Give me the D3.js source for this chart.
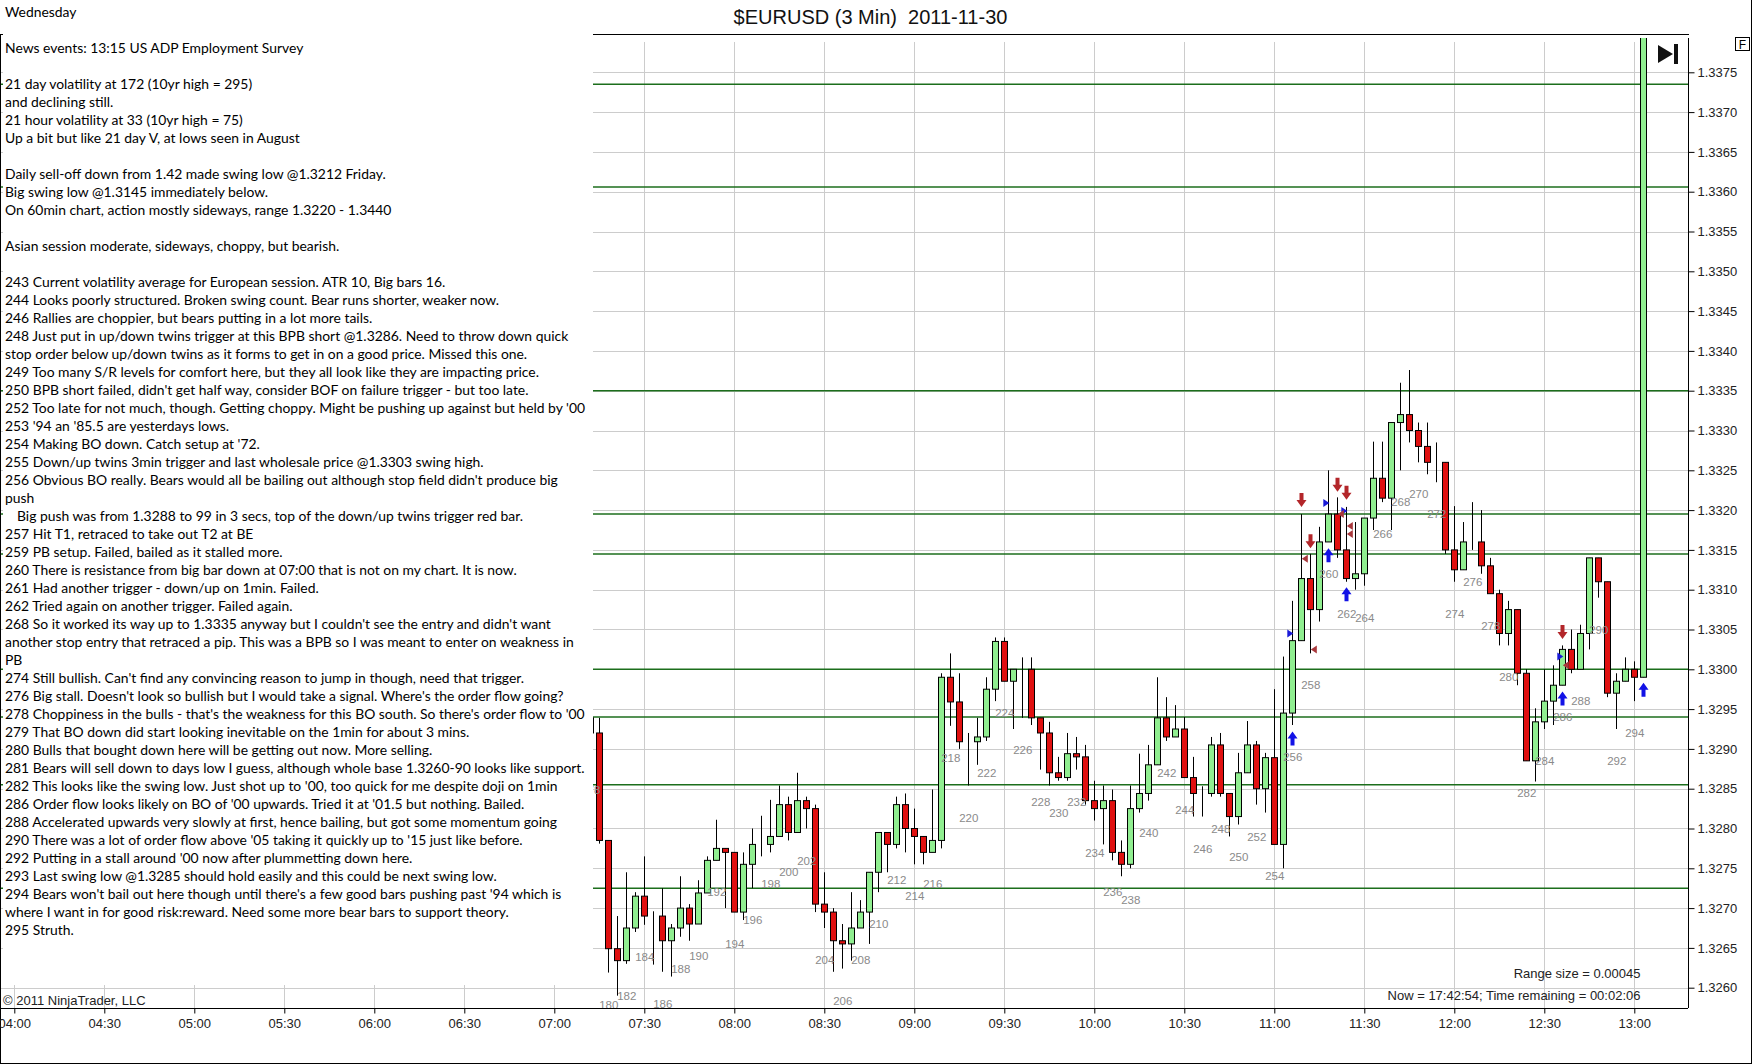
<!DOCTYPE html>
<html>
<head>
<meta charset="utf-8">
<script src="https://cdnjs.cloudflare.com/ajax/libs/d3/7.8.5/d3.min.js"></script>
<style>
  body { margin: 0; background: #fff; }
  svg { display: block; }
</style>
</head>
<body>
<svg id="chart" width="1752" height="1064"></svg>
<script>
// bar numbers start here, one entry per 3 minute bar
const firstBar = 178;
const opens = [1.32939,1.32920,1.32785,1.32649,1.32634,1.32675,1.32715,1.32690,1.32690,1.32659,
  1.32675,1.32700,1.32680,1.32719,1.32760,1.32775,1.32770,1.32695,1.32755,1.32780,
  1.32780,1.32790,1.32830,1.32795,1.32835,1.32825,1.32705,1.32695,1.32659,1.32655,
  1.32675,1.32695,1.32745,1.32795,1.32780,1.32830,1.32800,1.32790,1.32770,1.32785,
  1.32990,1.32959,1.32909,1.32909,1.32915,1.32975,1.33035,1.32985,1.33000,1.33000,
  1.32939,1.32920,1.32870,1.32864,1.32894,1.32890,1.32835,1.32825,1.32835,1.32770,
  1.32755,1.32825,1.32844,1.32880,1.32939,1.32915,1.32925,1.32864,1.32844,1.32844,
  1.32905,1.32844,1.32815,1.32870,1.32905,1.32850,1.32889,1.32780,1.32945,1.33036,
  1.33114,1.33075,1.33160,1.33195,1.33150,1.33114,1.33120,1.33190,1.33240,1.33215,
  1.33310,1.33320,1.33300,1.33280,1.33260,1.33260,1.33150,1.33125,1.33160,1.33160,
  1.33130,1.33095,1.33045,1.33075,1.32995,1.32885,1.32934,1.32960,1.32980,1.33025,
  1.33000,1.33045,1.33140,1.33110,1.32970,1.32985,1.33000,1.32990];
const highs = [1.32945,1.32939,1.32785,1.32690,1.32745,1.32720,1.32765,1.32696,1.32725,1.32680,
  1.32740,1.32705,1.32735,1.32765,1.32811,1.32775,1.32770,1.32770,1.32800,1.32816,
  1.32836,1.32854,1.32840,1.32870,1.32840,1.32830,1.32745,1.32700,1.32680,1.32720,
  1.32710,1.32745,1.32795,1.32795,1.32840,1.32844,1.32825,1.32790,1.32849,1.32995,
  1.33020,1.32995,1.32920,1.32939,1.32990,1.33040,1.33040,1.33000,1.33015,1.33015,
  1.32939,1.32934,1.32890,1.32920,1.32915,1.32905,1.32860,1.32854,1.32849,1.32785,
  1.32854,1.32894,1.32905,1.32990,1.32965,1.32955,1.32940,1.32890,1.32853,1.32915,
  1.32920,1.32844,1.32895,1.32935,1.32910,1.32895,1.32975,1.33016,1.33086,1.33195,
  1.33145,1.33179,1.33250,1.33216,1.33204,1.33185,1.33190,1.33286,1.33286,1.33310,
  1.33360,1.33376,1.33310,1.33310,1.33285,1.33260,1.33205,1.33185,1.33210,1.33200,
  1.33140,1.33100,1.33086,1.33075,1.33000,1.32951,1.33000,1.33005,1.33030,1.33050,
  1.33056,1.33140,1.33140,1.33110,1.32995,1.33015,1.33010,1.33810];
const lows = [1.32888,1.32781,1.32619,1.32590,1.32630,1.32670,1.32679,1.32629,1.32620,1.32614,
  1.32664,1.32659,1.32680,1.32719,1.32760,1.32700,1.32695,1.32685,1.32725,1.32765,
  1.32770,1.32790,1.32785,1.32795,1.32800,1.32695,1.32675,1.32620,1.32624,1.32634,
  1.32675,1.32655,1.32720,1.32745,1.32775,1.32770,1.32755,1.32755,1.32770,1.32775,
  1.32929,1.32900,1.32854,1.32880,1.32910,1.32960,1.32985,1.32925,1.32939,1.32930,
  1.32874,1.32854,1.32860,1.32860,1.32874,1.32830,1.32810,1.32780,1.32760,1.32740,
  1.32750,1.32820,1.32835,1.32880,1.32910,1.32915,1.32864,1.32815,1.32815,1.32840,
  1.32840,1.32790,1.32805,1.32870,1.32830,1.32820,1.32780,1.32750,1.32930,1.33036,
  1.33020,1.33060,1.33160,1.33140,1.33110,1.33100,1.33105,1.33175,1.33210,1.33175,
  1.33250,1.33285,1.33260,1.33245,1.33235,1.33145,1.33110,1.33125,1.33150,1.33120,
  1.33095,1.33030,1.33030,1.32980,1.32885,1.32859,1.32925,1.32930,1.32980,1.32995,
  1.33000,1.33025,1.33090,1.32965,1.32925,1.32985,1.32960,1.32990];
const closes = [1.32920,1.32785,1.32649,1.32634,1.32675,1.32715,1.32690,1.32690,1.32659,1.32675,
  1.32700,1.32680,1.32719,1.32760,1.32775,1.32770,1.32695,1.32755,1.32780,1.32780,
  1.32790,1.32830,1.32795,1.32835,1.32825,1.32705,1.32695,1.32659,1.32655,1.32675,
  1.32695,1.32745,1.32795,1.32780,1.32830,1.32800,1.32790,1.32770,1.32785,1.32990,
  1.32959,1.32909,1.32909,1.32915,1.32975,1.33035,1.32985,1.33000,1.33000,1.32939,
  1.32920,1.32870,1.32864,1.32894,1.32890,1.32835,1.32825,1.32835,1.32770,1.32755,
  1.32825,1.32844,1.32880,1.32939,1.32915,1.32925,1.32864,1.32844,1.32844,1.32905,
  1.32844,1.32815,1.32870,1.32905,1.32850,1.32889,1.32780,1.32945,1.33036,1.33114,
  1.33075,1.33160,1.33195,1.33150,1.33114,1.33120,1.33190,1.33240,1.33215,1.33310,
  1.33320,1.33300,1.33280,1.33260,1.33260,1.33150,1.33125,1.33160,1.33160,1.33130,
  1.33095,1.33045,1.33075,1.32995,1.32885,1.32934,1.32960,1.32980,1.33025,1.33000,
  1.33045,1.33140,1.33110,1.32970,1.32985,1.33000,1.32990,1.33810];

// horizontal S/R lines drawn on the chart
const levels = [1.33735, 1.33606, 1.3335, 1.33195, 1.33145, 1.3300, 1.3294, 1.32855, 1.32725];

// signal markers: [bar, price]
const downArrows = [[257, 1.33204], [258, 1.33152], [261, 1.33223], [262, 1.33213], [286, 1.33038]];
const upArrows = [[256, 1.32922], [260, 1.33152], [262, 1.33103], [286, 1.32972], [295, 1.32983]];
const entryMarks = [[256, 1.33045], [260, 1.33209], [262, 1.33199], [286, 1.33016]];
const exitMarks = [[257, 1.33139], [258, 1.33025], [261, 1.33195], [262, 1.3318], [262, 1.3317], [286, 1.33005]];

const priceTicks = [1.3260, 1.3265, 1.3270, 1.3275, 1.3280, 1.3285, 1.3290, 1.3295, 1.3300, 1.3305,
  1.3310, 1.3315, 1.3320, 1.3325, 1.3330, 1.3335, 1.3340, 1.3345, 1.3350, 1.3355, 1.3360, 1.3365,
  1.3370, 1.3375];
const timeTicks = ['04:00', '04:30', '05:00', '05:30', '06:00', '06:30', '07:00', '07:30', '08:00', '08:30',
  '09:00', '09:30', '10:00', '10:30', '11:00', '11:30', '12:00', '12:30', '13:00'];

const notes = [
  "News events: 13:15 US ADP Employment Survey",
  "",
  "21 day volatility at 172 (10yr high = 295)",
  "and declining still.",
  "21 hour volatility at 33 (10yr high = 75)",
  "Up a bit but like 21 day V, at lows seen in August",
  "",
  "Daily sell-off down from 1.42 made swing low @1.3212 Friday.",
  "Big swing low @1.3145 immediately below.",
  "On 60min chart, action mostly sideways, range 1.3220 - 1.3440",
  "",
  "Asian session moderate, sideways, choppy, but bearish.",
  "",
  "243 Current volatility average for European session. ATR 10, Big bars 16.",
  "244 Looks poorly structured. Broken swing count. Bear runs shorter, weaker now.",
  "246 Rallies are choppier, but bears putting in a lot more tails.",
  "248 Just put in up/down twins trigger at this BPB short @1.3286. Need to throw down quick",
  "stop order below up/down twins as it forms to get in on a good price. Missed this one.",
  "249 Too many S/R levels for comfort here, but they all look like they are impacting price.",
  "250 BPB short failed, didn't get half way, consider BOF on failure trigger - but too late.",
  "252 Too late for not much, though. Getting choppy. Might be pushing up against but held by '00",
  "253 '94 an '85.5 are yesterdays lows.",
  "254 Making BO down. Catch setup at '72.",
  "255 Down/up twins 3min trigger and last wholesale price @1.3303 swing high.",
  "256 Obvious BO really. Bears would all be bailing out although stop field didn't produce big",
  "push",
  "   Big push was from 1.3288 to 99 in 3 secs, top of the down/up twins trigger red bar.",
  "257 Hit T1, retraced to take out T2 at BE",
  "259 PB setup. Failed, bailed as it stalled more.",
  "260 There is resistance from big bar down at 07:00 that is not on my chart. It is now.",
  "261 Had another trigger - down/up on 1min. Failed.",
  "262 Tried again on another trigger. Failed again.",
  "268 So it worked its way up to 1.3335 anyway but I couldn't see the entry and didn't want",
  "another stop entry that retraced a pip. This was a BPB so I was meant to enter on weakness in",
  "PB",
  "274 Still bullish. Can't find any convincing reason to jump in though, need that trigger.",
  "276 Big stall. Doesn't look so bullish but I would take a signal. Where's the order flow going?",
  "278 Choppiness in the bulls - that's the weakness for this BO south. So there's order flow to '00",
  "279 That BO down did start looking inevitable on the 1min for about 3 mins.",
  "280 Bulls that bought down here will be getting out now. More selling.",
  "281 Bears will sell down to days low I guess, although whole base 1.3260-90 looks like support.",
  "282 This looks like the swing low. Just shot up to '00, too quick for me despite doji on 1min",
  "286 Order flow looks likely on BO of '00 upwards. Tried it at '01.5 but nothing. Bailed.",
  "288 Accelerated upwards very slowly at first, hence bailing, but got some momentum going",
  "290 There was a lot of order flow above '05 taking it quickly up to '15 just like before.",
  "292 Putting in a stall around '00 now after plummetting down here.",
  "293 Last swing low @1.3285 should hold easily and this could be next swing low.",
  "294 Bears won't bail out here though until there's a few good bars pushing past '94 which is",
  "where I want in for good risk:reward. Need some more bear bars to support theory.",
  "295 Struth."
];

const svg = d3.select('#chart');
const axisFont = '"Liberation Sans", Arial, sans-serif';

// scales: 3 minute bars, bar 294 closes at 13:00
const parseT = d3.timeParse('%H:%M');
const tStart = parseT('04:00'), tEnd = parseT('13:00');
const x = d3.scaleTime().domain([tStart, tEnd]).range([14.3, 1634.3]);
const y = d3.scaleLinear().domain([1.3260, 1.3375]).range([987.7, 72.3]);
const barTime = n => d3.timeMinute.offset(tEnd, (n - 294) * 3);
const bx = n => x(barTime(n));

const bars = opens.map((o, i) => ({ n: firstBar + i, o: o, h: highs[i], l: lows[i], c: closes[i] }));

// clip for the price panel
svg.append('defs').append('clipPath').attr('id', 'plot')
  .append('rect').attr('x', 0).attr('y', 38).attr('width', 1688).attr('height', 970);

// grid
const grid = svg.append('g');
grid.selectAll('.vg').data(timeTicks).enter().append('line')
  .attr('x1', d => Math.round(x(parseT(d))) + 0.5).attr('x2', d => Math.round(x(parseT(d))) + 0.5)
  .attr('y1', 42).attr('y2', 1008)
  .attr('stroke', '#cccccc').attr('stroke-width', 1);
grid.selectAll('.hg').data(priceTicks).enter().append('line')
  .attr('x1', 0).attr('x2', 1688)
  .attr('y1', d => Math.round(y(d)) + 0.5).attr('y2', d => Math.round(y(d)) + 0.5)
  .attr('stroke', '#cccccc').attr('stroke-width', 1);

// S/R levels
svg.append('g').selectAll('line').data(levels).enter().append('line')
  .attr('x1', 0).attr('x2', 1688)
  .attr('y1', d => y(d)).attr('y2', d => y(d))
  .attr('stroke', '#1c6e1c').attr('stroke-width', 1.5);

// candles
const plot = svg.append('g').attr('clip-path', 'url(#plot)');
const candle = plot.selectAll('.bar').data(bars).enter().append('g');
candle.append('line')
  .attr('x1', d => Math.round(bx(d.n)) + 0.5).attr('x2', d => Math.round(bx(d.n)) + 0.5)
  .attr('y1', d => y(d.h)).attr('y2', d => y(d.l))
  .attr('stroke', '#000').attr('stroke-width', 1);
candle.append('rect')
  .attr('x', d => Math.round(bx(d.n)) - 2.5)
  .attr('width', 6)
  .attr('y', d => Math.min(y(d.o), y(d.c)))
  .attr('height', d => Math.abs(y(d.o) - y(d.c)))
  .attr('fill', d => d.c > d.o ? '#90ee90' : '#e01010')
  .attr('stroke', '#000').attr('stroke-width', 1);

// bar numbers under even bars
plot.selectAll('.num').data(bars.filter(d => d.n % 2 === 0 && d.n < 295)).enter().append('text')
  .attr('x', d => bx(d.n) + 0.5)
  .attr('y', d => y(d.l) + 32)
  .attr('dy', '0.35em')
  .attr('text-anchor', 'middle')
  .attr('font-family', axisFont).attr('font-size', 11.5)
  .attr('fill', '#8a8a8a')
  .text(d => d.n);

// markers
const arrowPath = (cx, tip, dir) => {
  // dir = 1 points down, -1 points up
  const p = [[cx - 2, tip - dir * 14], [cx + 2, tip - dir * 14], [cx + 2, tip - dir * 7], [cx + 5, tip - dir * 7],
    [cx, tip], [cx - 5, tip - dir * 7], [cx - 2, tip - dir * 7]];
  return 'M' + p.map(q => q.join(',')).join('L') + 'Z';
};
const triPath = (cx, cy, dir) => {
  // dir = 1 points right, -1 points left
  return 'M' + (cx - dir * 3) + ',' + (cy - 4) + 'L' + (cx + dir * 3) + ',' + cy + 'L' + (cx - dir * 3) + ',' + (cy + 4) + 'Z';
};
const marks = plot.append('g');
marks.selectAll('.dn').data(downArrows).enter().append('path')
  .attr('d', d => arrowPath(Math.round(bx(d[0])) + 0.5, y(d[1]), 1)).attr('fill', '#b3262a');
marks.selectAll('.up').data(upArrows).enter().append('path')
  .attr('d', d => arrowPath(Math.round(bx(d[0])) + 0.5, y(d[1]), -1)).attr('fill', '#1212e6');
marks.selectAll('.en').data(entryMarks).enter().append('path')
  .attr('d', d => triPath(bx(d[0]) - 2, y(d[1]), 1)).attr('fill', '#1a1ad8');
marks.selectAll('.ex').data(exitMarks).enter().append('path')
  .attr('d', d => triPath(bx(d[0]) + 3.5, y(d[1]), -1)).attr('fill', '#a8383c');

// frame lines
svg.append('line').attr('x1', 0).attr('x2', 1689).attr('y1', 34.5).attr('y2', 34.5).attr('stroke', '#000');
svg.append('line').attr('x1', 0.5).attr('x2', 0.5).attr('y1', 34).attr('y2', 1064).attr('stroke', '#000');
svg.append('line').attr('x1', 1751.5).attr('x2', 1751.5).attr('y1', 0).attr('y2', 1064).attr('stroke', '#000');
svg.append('line').attr('x1', 0).attr('x2', 1752).attr('y1', 1063.5).attr('y2', 1063.5).attr('stroke', '#000');

// price axis
const yAxis = d3.axisRight(y).tickValues(priceTicks).tickFormat(d3.format('.4f')).tickSize(6).tickPadding(3);
const gy = svg.append('g').attr('transform', 'translate(1688.5,0)').call(yAxis);
gy.select('.domain').attr('d', 'M0,38V1008');
gy.selectAll('text').attr('font-family', axisFont).attr('font-size', 13).attr('fill', '#222');

// time axis
const xAxis = d3.axisBottom(x).tickValues(timeTicks.map(parseT)).tickFormat(d3.timeFormat('%H:%M')).tickSize(5);
const gx = svg.append('g').attr('transform', 'translate(0,1008.5)').call(xAxis);
gx.select('.domain').attr('d', 'M0,0H1688');
gx.selectAll('text').attr('font-family', axisFont).attr('font-size', 13).attr('fill', '#222')
  .attr('y', 14.5).attr('dy', '0.35em');

// notes panel over the left part of the chart
svg.append('rect').attr('x', 3).attr('y', 33).attr('width', 590).attr('height', 952).attr('fill', '#fff');
const noteFont = 'Lato, "Open Sans", sans-serif';
const noteG = svg.append('g').attr('font-family', noteFont).attr('font-size', 14).attr('fill', '#000');
const noteText = noteG.selectAll('text').data(notes).enter().append('text')
  .attr('x', d => d.startsWith('   ') ? 17 : 5)
  .attr('y', (d, i) => 53 + 18 * i)
  .text(d => d.trim());
// squeeze the Lato lines to the width of the original Calibri lines
const refLen = noteText.filter((d, i) => i === 20).node().getComputedTextLength();
const squeeze = 580 / refLen;
noteText.each(function (d) {
  if (!d.trim()) return;
  const len = this.getComputedTextLength();
  d3.select(this).attr('textLength', len * squeeze).attr('lengthAdjust', 'spacingAndGlyphs');
});
const wed = svg.append('text').attr('x', 5).attr('y', 17.3)
  .attr('font-family', noteFont).attr('font-size', 14).text('Wednesday');
wed.attr('textLength', wed.node().getComputedTextLength() * squeeze).attr('lengthAdjust', 'spacingAndGlyphs');

// title and status texts
svg.append('text').attr('x', 870.5).attr('y', 24).attr('text-anchor', 'middle')
  .attr('font-family', axisFont).attr('font-size', 20).attr('fill', '#111')
  .attr('xml:space', 'preserve').style('white-space', 'pre')
  .text('$EURUSD (3 Min)  2011-11-30');
svg.append('text').attr('x', 3).attr('y', 1004.5)
  .attr('font-family', axisFont).attr('font-size', 13).attr('fill', '#222')
  .text('\u00a9 2011 NinjaTrader, LLC');
svg.append('text').attr('x', 1640.5).attr('y', 977.5).attr('text-anchor', 'end')
  .attr('font-family', axisFont).attr('font-size', 13).attr('fill', '#222')
  .text('Range size = 0.00045');
svg.append('text').attr('x', 1640.5).attr('y', 999.5).attr('text-anchor', 'end')
  .attr('font-family', axisFont).attr('font-size', 13).attr('fill', '#222')
  .text('Now = 17:42:54; Time remaining = 00:02:06');

// "go to end" button and the F box
svg.append('path').attr('d', 'M1658,45L1673,54L1658,63Z').attr('fill', '#111');
svg.append('rect').attr('x', 1674).attr('y', 44).attr('width', 4).attr('height', 20).attr('fill', '#111');
svg.append('rect').attr('x', 1735.5).attr('y', 37.5).attr('width', 14).attr('height', 13)
  .attr('fill', '#fff').attr('stroke', '#000');
svg.append('text').attr('x', 1742.5).attr('y', 48.5).attr('text-anchor', 'middle')
  .attr('font-family', axisFont).attr('font-size', 12).text('F');
</script>
</body>
</html>
